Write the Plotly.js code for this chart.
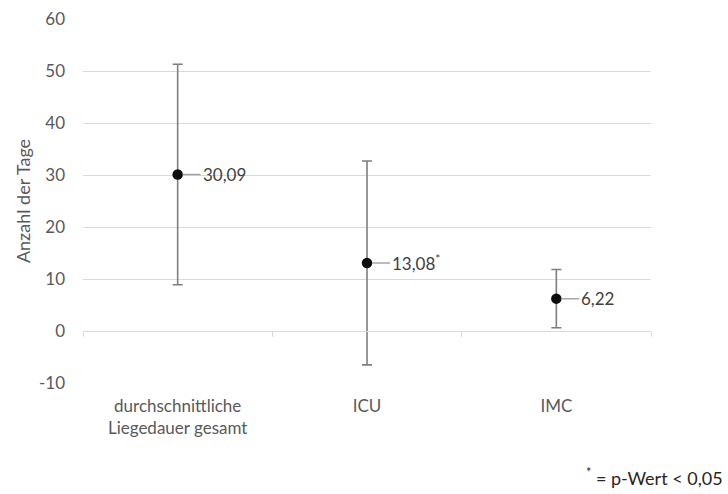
<!DOCTYPE html>
<html>
<head>
<meta charset="utf-8">
<script src="https://cdn.plot.ly/plotly-3.0.1.min.js"></script>
<style>
  html, body { margin: 0; padding: 0; background: #fff; }
  #chart { width: 728px; height: 494px; }
</style>
</head>
<body>
<div id="chart"></div>
<script>
// Durchschnittliche Liegedauer (Tage) mit Standardabweichung
const categories = ["durchschnittliche<br>Liegedauer gesamt", "ICU", "IMC"];
const meanDays = [30.09, 13.08, 6.22];
const sdDays = [21.2, 19.6, 5.6];
const valueLabels = ["30,09", "13,08<sup>*</sup>", "6,22"];
const yTicks = [-10, 0, 10, 20, 30, 40, 50, 60];
const footnote = "<sup>*</sup> = p-Wert < 0,05";

const FONT = "Lato, 'Liberation Sans', sans-serif";

const points = {
  type: "scatter",
  mode: "markers",
  x: categories,
  y: meanDays,
  marker: { color: "#0d0d0d", size: 10.5 },
  error_y: {
    type: "data",
    array: sdDays,
    visible: true,
    color: "#7f7f7f",
    thickness: 1.6,
    width: 5
  },
  hoverinfo: "skip",
  showlegend: false
};

// carries the category axis that sits on y = 0 (line + boundary ticks)
const baseAxisCarrier = {
  type: "scatter",
  mode: "markers",
  x: categories,
  y: meanDays,
  xaxis: "x2",
  marker: { opacity: 0 },
  hoverinfo: "skip",
  showlegend: false
};

const labelAnnotations = categories.map((c, i) => ({
  x: c,
  y: meanDays[i],
  xref: "x",
  yref: "y",
  text: valueLabels[i],
  showarrow: true,
  arrowhead: 0,
  arrowwidth: 1.5,
  arrowcolor: "#a6a6a6",
  standoff: 5,
  ax: 23,
  ay: 0,
  xanchor: "left",
  font: { family: FONT, size: 17, color: "#404040" }
}));

const yMin = yTicks[0], yMax = yTicks[yTicks.length - 1];

const layout = {
  width: 728,
  height: 494,
  margin: { l: 83, r: 77, t: 19, b: 111 },
  paper_bgcolor: "#ffffff",
  plot_bgcolor: "#ffffff",
  font: { family: FONT, color: "#595959", size: 16 },
  xaxis: {
    type: "category",
    range: [-0.5, 2.5],
    showgrid: false,
    showline: false,
    zeroline: false,
    ticks: "",
    ticklabelstandoff: 11,
    tickfont: { family: FONT, size: 17, color: "#595959" }
  },
  xaxis2: {
    type: "category",
    matches: "x",
    overlaying: "x",
    anchor: "free",
    position: (0 - yMin) / (yMax - yMin),
    showticklabels: false,
    showgrid: false,
    zeroline: false,
    showline: true,
    linecolor: "#d9d9d9",
    linewidth: 1,
    ticks: "outside",
    tickson: "boundaries",
    ticklen: 5,
    tickcolor: "#d9d9d9"
  },
  yaxis: {
    range: [yMin, yMax],
    tickvals: yTicks,
    ticktext: yTicks.map(String),
    showgrid: true,
    gridcolor: "#d9d9d9",
    gridwidth: 1,
    zeroline: false,
    showline: false,
    ticks: "",
    ticklabelstandoff: 17,
    tickfont: { family: FONT, size: 17, color: "#595959" },
    title: {
      text: "Anzahl der Tage",
      font: { family: FONT, size: 18, color: "#595959" },
      standoff: 3
    }
  },
  annotations: labelAnnotations.concat([{
    xref: "paper",
    yref: "paper",
    x: 1 + 74 / 568,
    y: -(477 - 383) / 364,
    xanchor: "right",
    yanchor: "middle",
    showarrow: false,
    text: footnote,
    font: { family: FONT, size: 18, color: "#262626" }
  }])
};

Plotly.newPlot("chart", [baseAxisCarrier, points], layout, { staticPlot: true, displayModeBar: false });
</script>
</body>
</html>
